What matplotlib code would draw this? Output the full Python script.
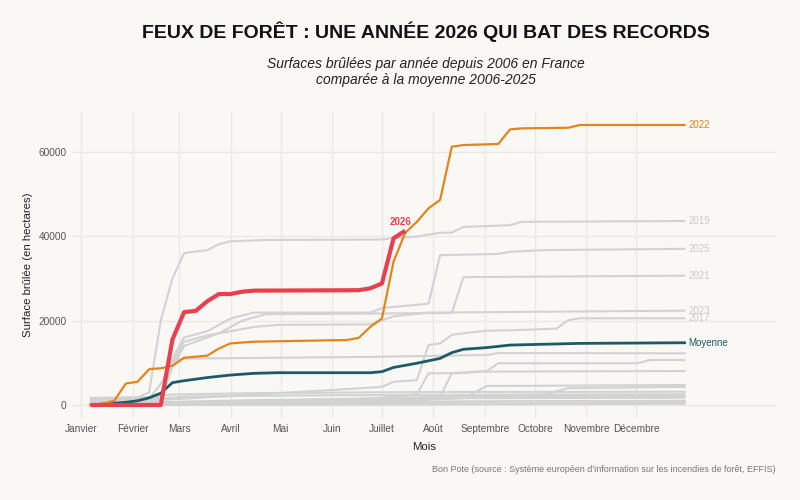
# Surfaces brulees cumulees par annee (France), 2006-2026
import matplotlib
matplotlib.use("Agg")
from matplotlib import pyplot as plt

# --- data (day of year, cumulated burnt area in ha) ---
days_2026 = [7, 49, 56, 63, 70, 77, 84, 91, 98, 105, 168, 175, 182, 189, 196]
area_2026 = [0, 0, 15500, 22000, 22300, 24600, 26300, 26300, 26850, 27100, 27200, 27650, 28800, 39500, 41300]

days_2022 = [7, 14, 21, 28, 35, 42, 49, 56, 63, 77, 84, 91, 105, 161, 168, 175, 182, 189, 196, 203, 210, 217, 224, 231, 252, 259, 266, 294, 301, 364]
area_2022 = [0, 300, 1000, 5100, 5500, 8500, 8700, 9300, 11200, 11700, 13400, 14600, 15000, 15400, 15900, 18500, 20500, 34000, 40800, 43400, 46600, 48600, 61200, 61600, 61850, 65300, 65550, 65700, 66350, 66350]

days_moy = [7, 28, 35, 42, 49, 56, 63, 77, 91, 105, 119, 175, 182, 189, 203, 217, 224, 231, 245, 259, 301, 364]
area_moy = [0, 640, 1000, 1700, 2800, 5300, 5750, 6500, 7100, 7500, 7650, 7650, 7900, 8900, 9900, 11050, 12400, 13200, 13600, 14200, 14600, 14750]

days_2019 = [7, 35, 42, 49, 56, 63, 77, 84, 91, 112, 182, 189, 203, 210, 217, 224, 231, 259, 266, 364]
area_2019 = [1500, 1800, 3000, 20000, 30000, 36000, 36700, 38100, 38800, 39100, 39200, 39600, 39900, 40400, 40800, 40850, 42200, 42600, 43400, 43600]

days_2025 = [7, 49, 56, 63, 77, 91, 105, 175, 182, 210, 217, 252, 259, 280, 364]
area_2025 = [200, 1000, 11000, 16000, 17500, 20500, 21900, 21900, 23000, 24000, 35500, 35800, 36300, 36700, 37000]

days_2021 = [7, 49, 56, 63, 84, 98, 112, 224, 231, 364]
area_2021 = [300, 1500, 9000, 14000, 17000, 20000, 21500, 21800, 30300, 30650]

days_2023 = [7, 49, 56, 63, 77, 91, 105, 120, 175, 189, 210, 364]
area_2023 = [500, 2000, 10000, 15000, 16500, 17500, 18500, 19000, 19100, 21000, 21900, 22350]

days_2017 = [7, 63, 105, 150, 182, 189, 203, 210, 217, 224, 231, 245, 259, 287, 294, 301, 364]
area_2017 = [300, 1500, 2500, 3500, 4300, 5500, 5900, 14200, 14600, 16600, 17000, 17600, 17700, 18100, 20100, 20550, 20550]

days_2006 = [7, 42, 49, 56, 63, 175, 245, 252, 364]
area_2006 = [800, 1500, 5000, 10500, 11000, 11400, 11850, 12300, 12250]

days_2007 = [7, 175, 203, 210, 231, 245, 252, 336, 343, 364]
area_2007 = [300, 1500, 2500, 7500, 7600, 8000, 9900, 9900, 10660, 10660]

days_2008 = [7, 105, 189, 217, 224, 238, 364]
area_2008 = [400, 800, 1200, 2000, 7500, 7900, 8050]

days_2009 = [7, 140, 231, 245, 364]
area_2009 = [200, 800, 1600, 4500, 4740]

days_2010 = [7, 280, 294, 364]
area_2010 = [100, 2500, 4000, 4300]

days_2011 = [7, 42, 56, 105, 175, 231, 364]
area_2011 = [1700, 1800, 2500, 2800, 3000, 3100, 3150]

days_2012 = [7, 49, 63, 112, 200, 364]
area_2012 = [1200, 1500, 2000, 2200, 2400, 2530]

days_2013 = [7, 84, 98, 196, 210, 364]
area_2013 = [0, 300, 1000, 1300, 1600, 1730]

days_2014 = [7, 150, 231, 364]
area_2014 = [0, 400, 800, 950]

days_2015 = [7, 210, 364]
area_2015 = [0, 200, 500]

days_2016 = [7, 63, 112, 217, 231, 364]
area_2016 = [0, 800, 1200, 1500, 2300, 2300]

days_2018 = [7, 182, 238, 364]
area_2018 = [100, 600, 1900, 2000]

days_2020 = [7, 364]
area_2020 = [0, 300]

days_2024 = [7, 70, 364]
area_2024 = [0, 600, 1000]

month_days = [1, 32, 60, 91, 121, 152, 182, 213, 244, 274, 305, 335]
month_names = ["Janvier", "Février", "Mars", "Avril", "Mai", "Juin", "Juillet",
               "Août", "Septembre", "Octobre", "Novembre", "Décembre"]
y_ticks = [0, 20000, 40000, 60000]

gray_series = [
    ("2019", days_2019, area_2019), ("2025", days_2025, area_2025),
    ("2021", days_2021, area_2021), ("2023", days_2023, area_2023),
    ("2017", days_2017, area_2017),
    (None, days_2006, area_2006), (None, days_2007, area_2007),
    (None, days_2008, area_2008), (None, days_2009, area_2009),
    (None, days_2010, area_2010), (None, days_2011, area_2011),
    (None, days_2012, area_2012), (None, days_2013, area_2013),
    (None, days_2014, area_2014), (None, days_2015, area_2015),
    (None, days_2016, area_2016), (None, days_2018, area_2018),
    (None, days_2020, area_2020), (None, days_2024, area_2024),
]

# --- style ---
plt.rcParams['font.family'] = ['Liberation Sans', 'DejaVu Sans']
bg = "#f9f8f4"
c_gray = "#d2d2d2"
c_orange = "#e0861c"
c_red = "#e8404f"
c_teal = "#1c5b66"

fig = plt.figure(figsize=(8, 5), dpi=100, facecolor=bg)
ax = fig.add_axes([72/800, 82/500, 704/800, 306/500])
ax.set_facecolor(bg)

for lab, d, v in gray_series:
    ax.plot(d, v, color=c_gray, lw=1.5, solid_joinstyle='round', zorder=2)
    if lab:
        ax.annotate(lab, (d[-1], v[-1]), xytext=(3, 0), textcoords='offset points',
                    va='center', ha='left', fontsize=7, color="#cacaca")

ax.plot(days_moy, area_moy, color=c_teal, lw=2, zorder=3)
ax.annotate("Moyenne", (days_moy[-1], area_moy[-1]), xytext=(3, 0), textcoords='offset points',
            va='center', ha='left', fontsize=7, color=c_teal)

ax.plot(days_2022, area_2022, color=c_orange, lw=1.6, zorder=4)
ax.annotate("2022", (days_2022[-1], area_2022[-1]), xytext=(3, 0), textcoords='offset points',
            va='center', ha='left', fontsize=7, color=c_orange)

ax.plot(days_2026, area_2026, color=c_red, lw=3, solid_capstyle='butt', zorder=5)
ax.annotate("2026", (days_2026[-1], area_2026[-1]), xytext=(-3, 3), textcoords='offset points',
            va='bottom', ha='center', fontsize=7, color=c_red, fontweight='bold')

ax.set_xlim(-4.4, 419)
ax.set_ylim(-3080, 69430)
ax.set_xticks(month_days)
ax.set_xticklabels(month_names)
ax.set_yticks(y_ticks)
ax.set_yticklabels([str(t) for t in y_ticks])
ax.tick_params(length=0, labelsize=7.3, colors="#555555", pad=4)
ax.grid(True, color="#ebe8e3", lw=0.9, zorder=0)
ax.set_axisbelow(True)
for s in ax.spines.values():
    s.set_visible(False)

ax.set_xlabel("Mois", fontsize=8.2, color="#222222", labelpad=6)
ax.set_ylabel("Surface brûlée (en hectares)", fontsize=8.2, color="#222222", labelpad=4)

fig.text(0.532, 0.936, "FEUX DE FORÊT : UNE ANNÉE 2026 QUI BAT DES RECORDS",
         ha='center', va='center', fontsize=14, fontweight='bold', color="#111111")
fig.text(0.532, 0.856, "Surfaces brûlées par année depuis 2006 en France\ncomparée à la moyenne 2006-2025",
         ha='center', va='center', fontsize=10, style='italic', color="#222222", linespacing=1.2)
fig.text(0.97, 0.06, "Bon Pote (source : Système européen d'information sur les incendies de forêt, EFFIS)",
         ha='right', va='center', fontsize=6.5, color="#777777")

plt.savefig("out.png", dpi=100, facecolor=bg)
